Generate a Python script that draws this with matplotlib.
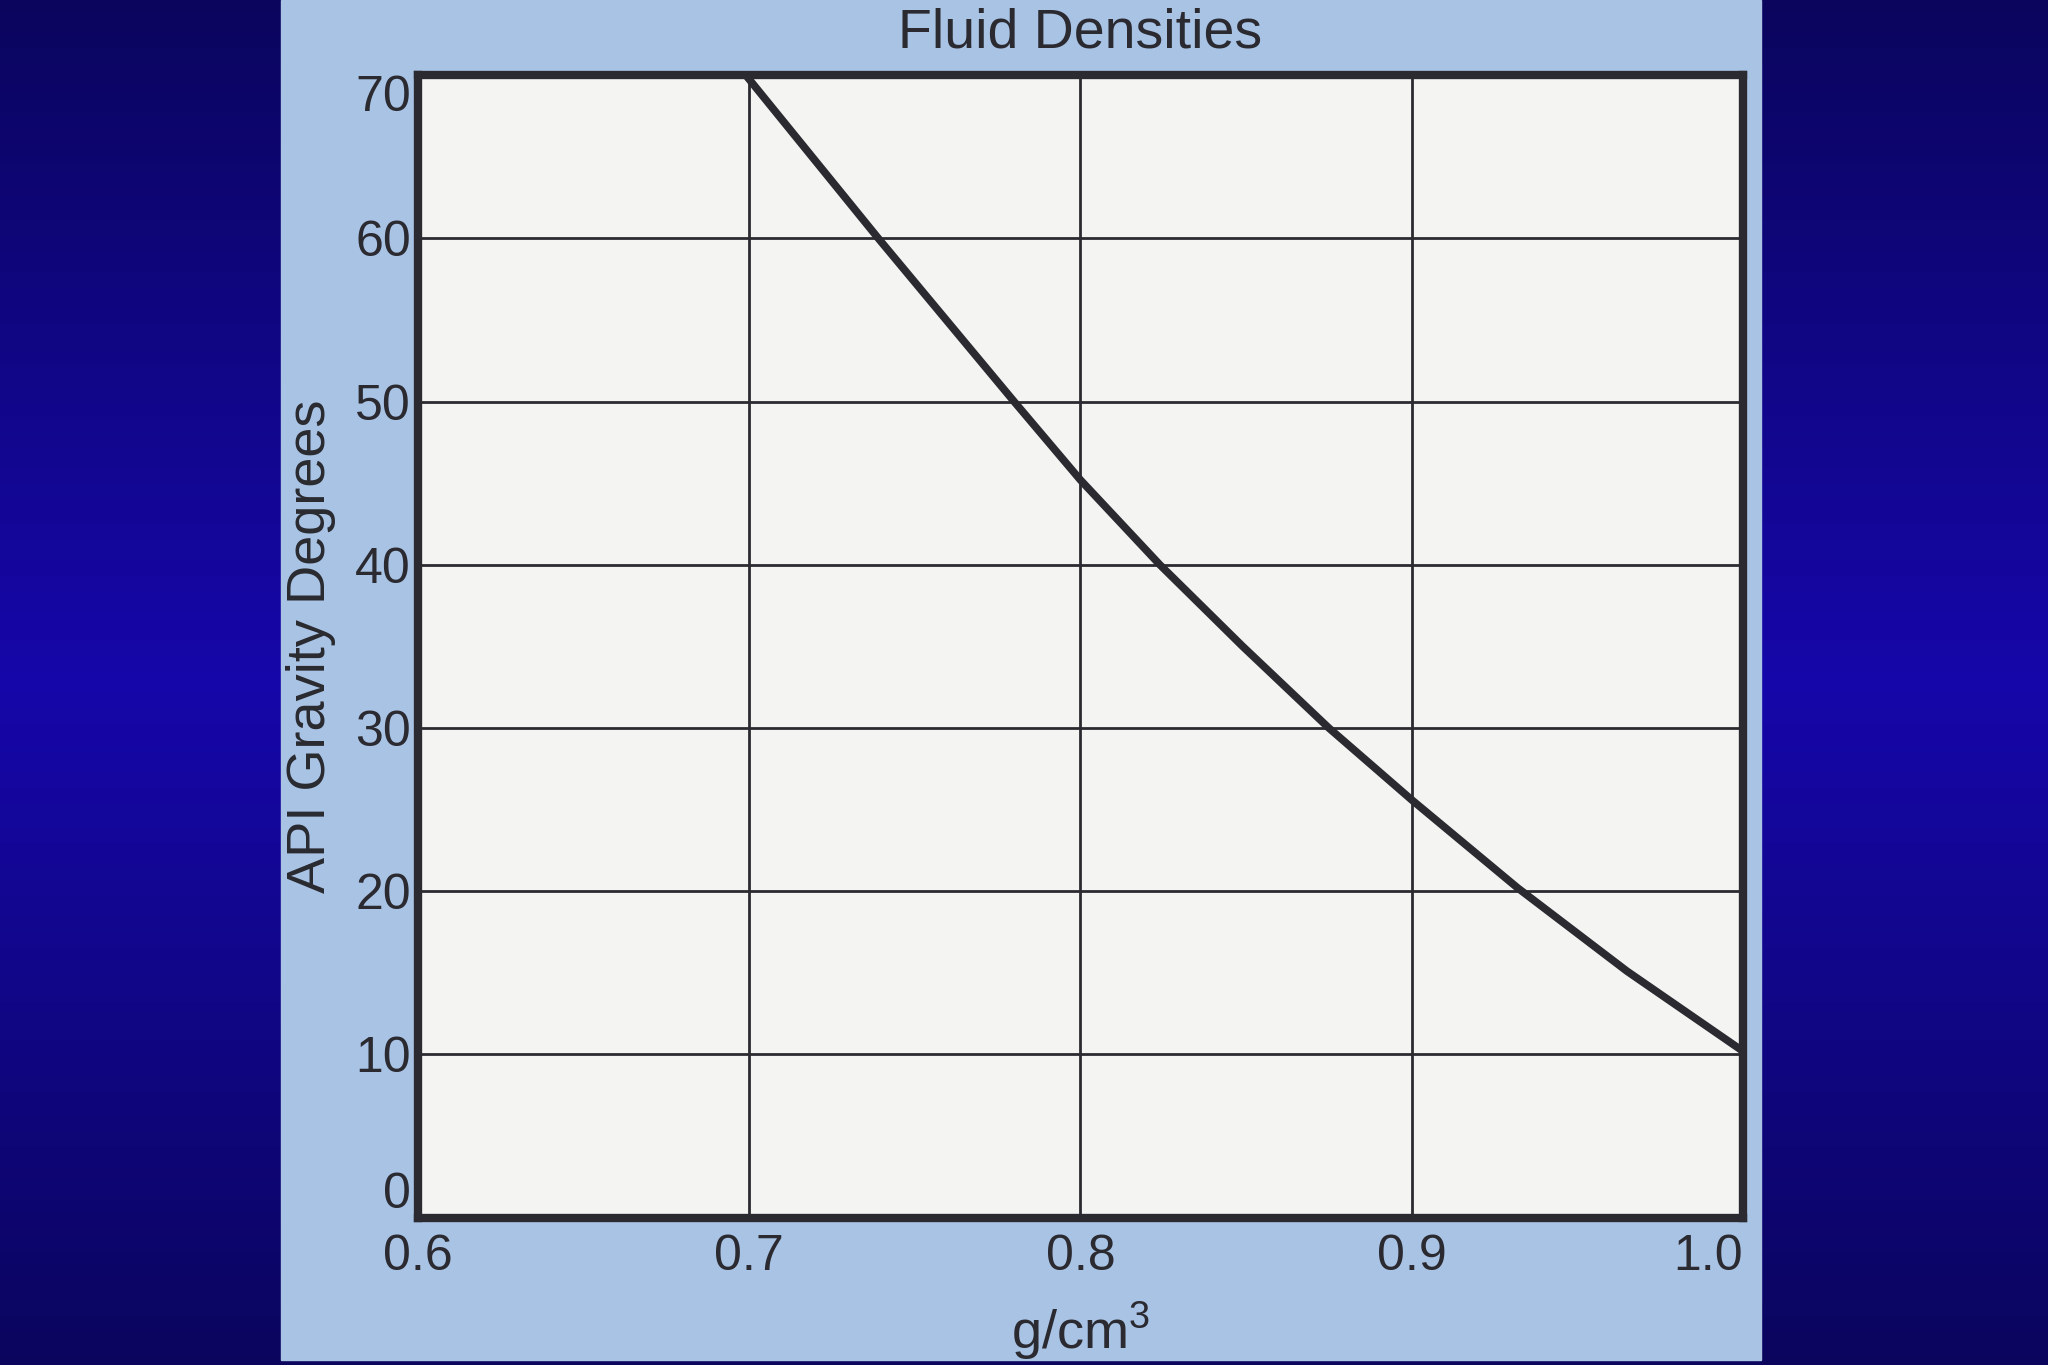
import matplotlib
matplotlib.use("Agg")
import numpy as np
import matplotlib.pyplot as plt
from matplotlib.patches import Rectangle

# values
density = [0.699, 0.719, 0.739, 0.780, 0.800, 0.824, 0.849, 0.875, 0.900, 0.932, 0.965, 1.000]
api_gravity = [70, 65, 60, 50, 45.2, 40, 35, 30, 25.6, 20.2, 15.1, 10.2]

x_ticks = [0.6, 0.7, 0.8, 0.9, 1.0]
x_labels = ["0.6", "0.7", "0.8", "0.9", "1.0"]
y_ticks = [0, 10, 20, 30, 40, 50, 60, 70]
y_labels = ["0", "10", "20", "30", "40", "50", "60", "70"]

title = "Fluid Densities"
xlabel = "g/cm$^{3}$"
ylabel = "API Gravity Degrees"

ink = "#2a2a30"
plt.rcParams['font.family'] = ['Liberation Sans', 'DejaVu Sans']
plt.rcParams['mathtext.fontset'] = 'custom'
plt.rcParams['mathtext.rm'] = 'Liberation Sans'
plt.rcParams['mathtext.it'] = 'Liberation Sans'
plt.rcParams['mathtext.default'] = 'regular'

fig = plt.figure(figsize=(20.48, 13.65), dpi=100)

# dark blue slide background with a soft vertical gradient
bg = fig.add_axes([0, 0, 1, 1], zorder=-2)
top = np.array([0x0b, 0x05, 0x5e]) / 255
mid = np.array([0x16, 0x07, 0xaa]) / 255
t = np.abs(np.linspace(-1, 1, 256))[:, None]
grad = mid + (top - mid) * t
bg.imshow(grad[:, None, :], aspect='auto', extent=[0, 1, 0, 1])
bg.add_patch(Rectangle((0.137, 0.004), 0.723, 0.996, color='#a9c3e5'))
bg.set_xlim(0, 1)
bg.set_ylim(0, 1)
bg.axis('off')

ax = fig.add_axes([0.204, 0.108, 0.647, 0.837])
ax.set_facecolor('#f4f4f3')
ax.plot(density, api_gravity, color=ink, lw=5.5, solid_capstyle='butt',
        solid_joinstyle='round', zorder=3)

ax.set_xlim(0.6, 1.0)
ax.set_ylim(0, 70)
ax.set_xticks(x_ticks)
ax.set_xticklabels(x_labels)
ax.set_yticks(y_ticks)
ax.set_yticklabels(y_labels)
ax.grid(True, color=ink, lw=2.0)
ax.set_axisbelow(True)
for sp in ax.spines.values():
    sp.set_linewidth(6)
    sp.set_color(ink)
    sp.set_zorder(4)

ax.tick_params(axis='both', length=0, labelsize=36, labelcolor=ink)
ax.tick_params(axis='x', pad=12)
ax.tick_params(axis='y', pad=5)
xl = ax.get_xticklabels()
xl[-1].set_ha('right')
yl = ax.get_yticklabels()
yl[0].set_va('bottom')
yl[-1].set_va('top')

ax.set_title(title, fontsize=40, color=ink, pad=20)
ax.set_xlabel(xlabel, fontsize=39, color=ink, labelpad=14)
ax.set_ylabel(ylabel, fontsize=39, color=ink, labelpad=14)

fig.savefig("out.png", dpi=100)
